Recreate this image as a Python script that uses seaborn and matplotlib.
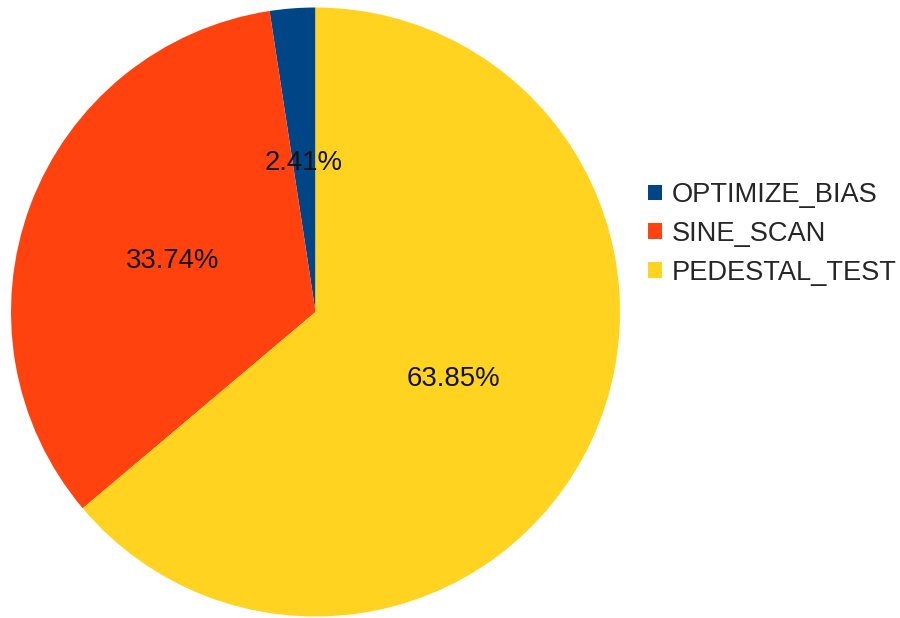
import matplotlib
matplotlib.use("Agg")
import matplotlib.pyplot as plt
import seaborn as sns

categories = ["OPTIMIZE_BIAS", "SINE_SCAN", "PEDESTAL_TEST"]
shares = [2.41, 33.74, 63.85]
colors = ["#004586", "#ff420e", "#ffd320"]

sns.set_theme(style="white")
plt.rcParams["font.family"] = ["Liberation Sans", "DejaVu Sans"]

W, H = 900, 618
fig = plt.figure(figsize=(W / 100, H / 100), dpi=100)

cx, cy, r = 315.5, 312, 304.5
ax = fig.add_axes([(cx - r) / W, (H - cy - r) / H, 2 * r / W, 2 * r / H])

palette = sns.color_palette(colors)
wedges, texts, autotexts = ax.pie(
    shares,
    colors=palette,
    startangle=90,
    counterclock=True,
    autopct=lambda p: f"{p:.2f}%",
    pctdistance=0.5,
    radius=1.0,
    wedgeprops=dict(linewidth=0),
    textprops=dict(fontsize=19.8, color="#111111"),
)
for t in autotexts:
    t.set_verticalalignment("center_baseline")
ax.set_xlim(-1, 1)
ax.set_ylim(-1, 1)
ax.set_aspect("equal")
ax.axis("off")

fig.legend(
    wedges,
    categories,
    loc="center left",
    bbox_to_anchor=(648 / W, (H - 234) / H),
    frameon=False,
    fontsize=19.6,
    handlelength=0.52,
    handleheight=0.52,
    handletextpad=0.36,
    labelspacing=0.47,
    borderpad=0,
    borderaxespad=0,
)

fig.savefig("out.png", dpi=100, facecolor="white")
